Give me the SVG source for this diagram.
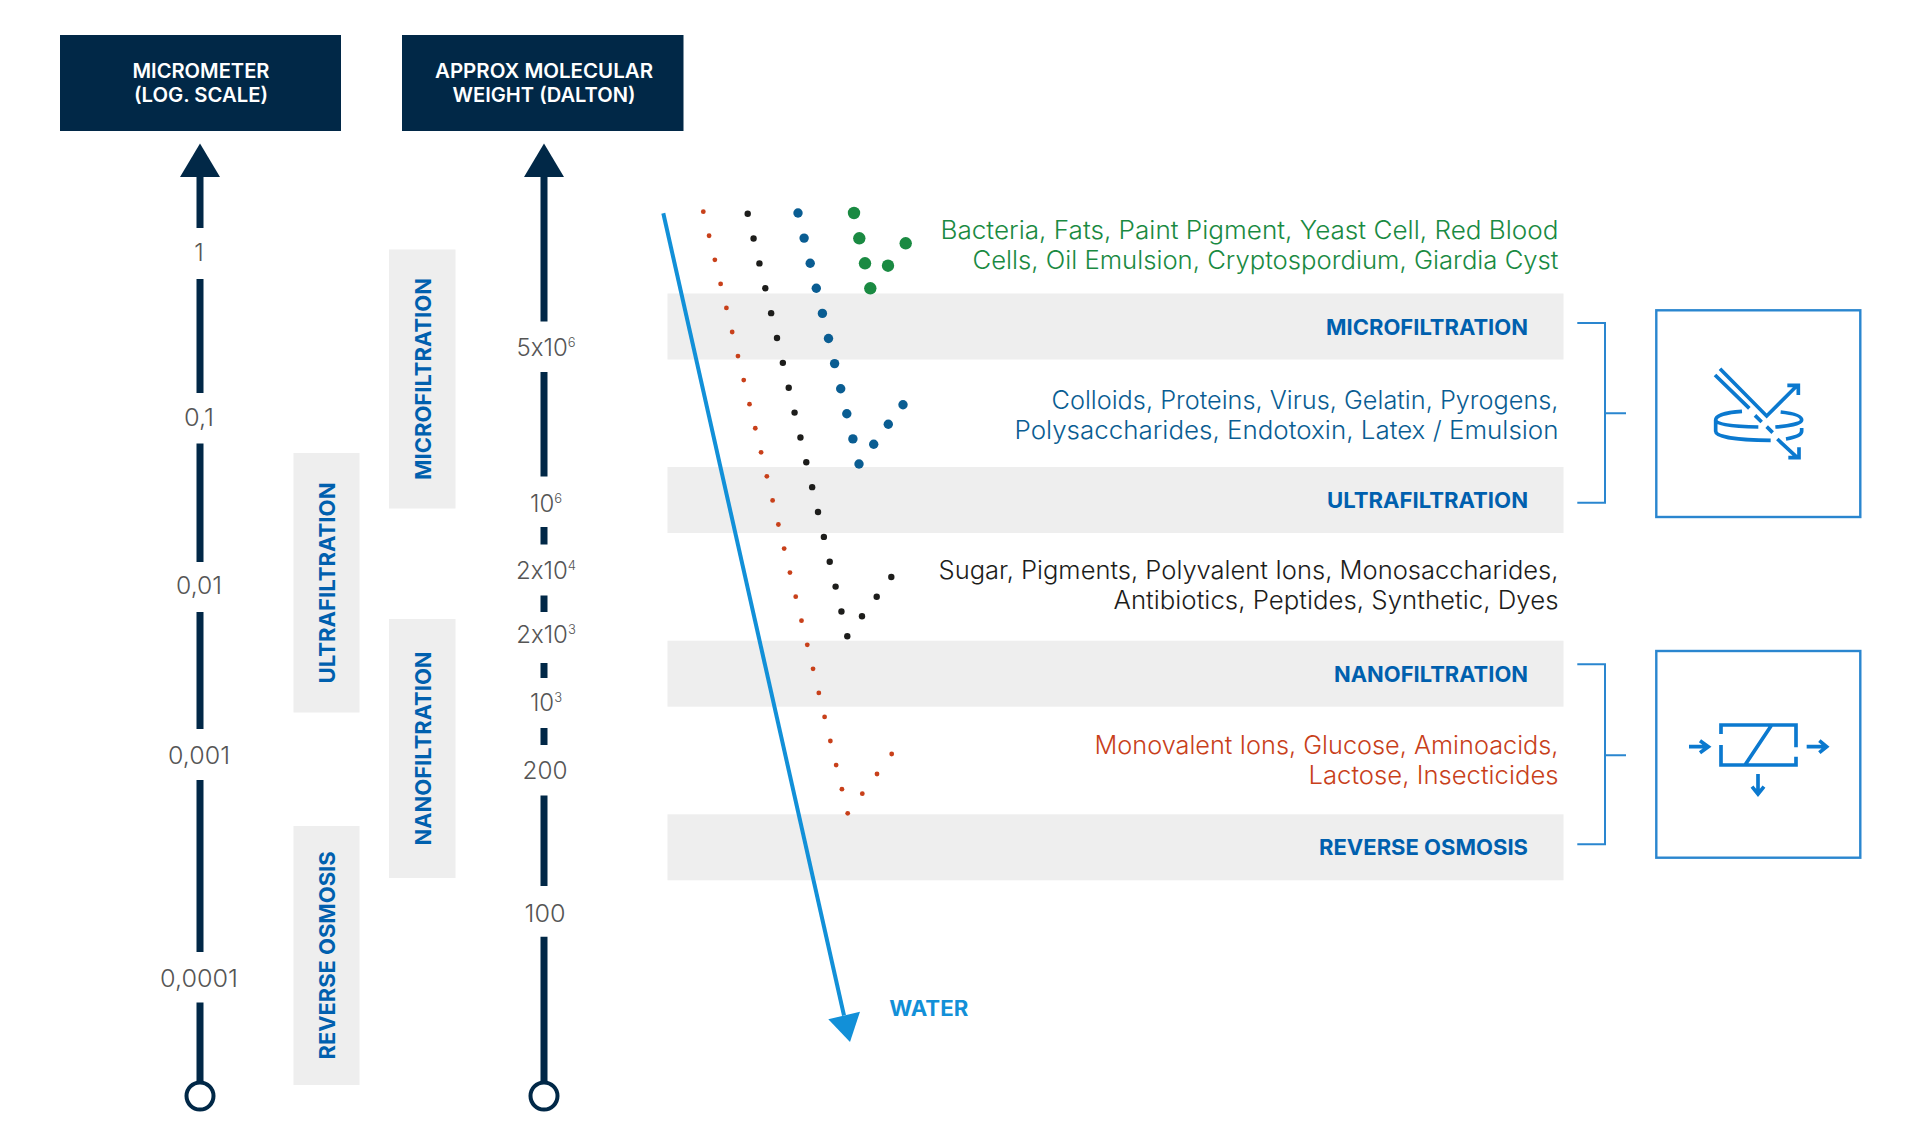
<svg xmlns="http://www.w3.org/2000/svg" width="1920" height="1146" viewBox="0 0 1920 1146">
<style>
text{font-family:"Inter","Liberation Sans",sans-serif}
.hd{fill:#012847}
.ht{fill:#fff;font-size:20px;font-weight:600;text-anchor:middle}
.ax{fill:none;stroke:#012847;stroke-width:7}
.ah{fill:#012847}
.end{fill:#fff;stroke:#012847;stroke-width:4}
.sc{fill:#555;font-size:24px;font-weight:300;text-anchor:middle;font-feature-settings:"calt" 0}
.sc tspan{font-size:13px}
.band{fill:#eee}
.fl{fill:#0060ae;font-size:21.500px;font-weight:700;text-anchor:middle}
.bl{fill:#0060ae;font-size:21.500px;font-weight:700;text-anchor:end}
.ls{font-size:25px;font-weight:300;text-anchor:end}
.g{fill:#1a8a42}.b{fill:#0a5d92}.k{fill:#1d1d1b}.o{fill:#c8401a}
.br{fill:none;stroke:#2a86cf;stroke-width:2}
.bx{fill:#fff;stroke:#2a86cf;stroke-width:2.4}
.ic{fill:none;stroke:#0b79cf;stroke-width:11}
</style>
<rect width="1920" height="1146" fill="#fff"/>

<g id="bands">
<rect class="band" x="667.5" y="293.5" width="896" height="66"/>
<rect class="band" x="667.5" y="467" width="896" height="66"/>
<rect class="band" x="667.5" y="640.7" width="896" height="66"/>
<rect class="band" x="667.5" y="814.3" width="896" height="66"/>
<rect class="band" x="389" y="249.5" width="66.5" height="259"/>
<rect class="band" x="293.5" y="453" width="66" height="259.5"/>
<rect class="band" x="389" y="619" width="66.5" height="259"/>
<rect class="band" x="293.5" y="826" width="66" height="259"/>
</g>

<g id="connectors">
<path class="ax" d="M200 177V228M200 279V393M200 443.500V562M200 612V729M200 780V952M200 1002.500V1082"/>
<path class="ax" d="M544 177V321.500M544 372V476.500M544 527V544.600M544 595.500V612M544 663V678M544 728V745M544 795.500V886M544 936.700V1082"/>
<path class="ah" d="M200 143.500L220 177H180Z"/>
<path class="ah" d="M544 143.500L564 177H524Z"/>
<circle class="end" cx="200" cy="1096" r="13.500"/>
<circle class="end" cx="544" cy="1096" r="13.500"/>
<path d="M663.300 213.300L844 1015.500" fill="none" stroke="#1290d8" stroke-width="4"/>
<path d="M850 1042L828.300 1019.300L860 1011.700Z" fill="#1290d8"/>
<path class="br" d="M1577.300 323H1605V502.700H1577.300M1605 413.300H1626"/>
<path class="br" d="M1577.300 664.300H1605V844.300H1577.300M1605 755.300H1626"/>
</g>

<g id="header-micrometer">
<rect class="hd" x="60" y="35" width="281" height="96"/>
<text class="ht" x="201" y="78" textLength="137" lengthAdjust="spacingAndGlyphs">MICROMETER</text>
<text class="ht" x="201" y="102" textLength="134" lengthAdjust="spacingAndGlyphs">(LOG. SCALE)</text>
</g>
<g id="header-dalton">
<rect class="hd" x="402" y="35" width="281.500" height="96"/>
<text class="ht" x="544" y="78" textLength="218" lengthAdjust="spacingAndGlyphs">APPROX MOLECULAR</text>
<text class="ht" x="544" y="102" textLength="183" lengthAdjust="spacingAndGlyphs">WEIGHT (DALTON)</text>
</g>

<g id="scale-micrometer">
<text class="sc" x="199" y="261">1</text>
<text class="sc" x="199" y="425.500" textLength="30" lengthAdjust="spacingAndGlyphs">0,1</text>
<text class="sc" x="199" y="594" textLength="46" lengthAdjust="spacingAndGlyphs">0,01</text>
<text class="sc" x="199" y="763.500" textLength="62" lengthAdjust="spacingAndGlyphs">0,001</text>
<text class="sc" x="199" y="986.500" textLength="78" lengthAdjust="spacingAndGlyphs">0,0001</text>
</g>
<g id="scale-dalton">
<text class="sc" x="546" y="356">5x10<tspan dy="-9">6</tspan></text>
<text class="sc" x="546" y="511.500">10<tspan dy="-9">6</tspan></text>
<text class="sc" x="546" y="578.500">2x10<tspan dy="-9">4</tspan></text>
<text class="sc" x="546" y="643">2x10<tspan dy="-9">3</tspan></text>
<text class="sc" x="546" y="710.500">10<tspan dy="-9">3</tspan></text>
<text class="sc" x="545" y="778.500" textLength="45" lengthAdjust="spacingAndGlyphs">200</text>
<text class="sc" x="545" y="921.500" textLength="41" lengthAdjust="spacingAndGlyphs">100</text>
</g>

<g id="vertical-microfiltration"><text class="fl" transform="translate(431 379) rotate(-90)" textLength="202" lengthAdjust="spacingAndGlyphs">MICROFILTRATION</text></g>
<g id="vertical-ultrafiltration"><text class="fl" transform="translate(335 583) rotate(-90)" textLength="201" lengthAdjust="spacingAndGlyphs">ULTRAFILTRATION</text></g>
<g id="vertical-nanofiltration"><text class="fl" transform="translate(431 748.500) rotate(-90)" textLength="194" lengthAdjust="spacingAndGlyphs">NANOFILTRATION</text></g>
<g id="vertical-reverse-osmosis"><text class="fl" transform="translate(335 955.500) rotate(-90)" textLength="208" lengthAdjust="spacingAndGlyphs">REVERSE OSMOSIS</text></g>

<g id="band-labels">
<text class="bl" x="1528" y="334.500" textLength="202" lengthAdjust="spacingAndGlyphs">MICROFILTRATION</text>
<text class="bl" x="1528" y="508" textLength="201" lengthAdjust="spacingAndGlyphs">ULTRAFILTRATION</text>
<text class="bl" x="1528" y="682" textLength="194" lengthAdjust="spacingAndGlyphs">NANOFILTRATION</text>
<text class="bl" x="1528" y="855" textLength="209" lengthAdjust="spacingAndGlyphs">REVERSE OSMOSIS</text>
</g>

<g id="text-green">
<text class="ls g" x="1558.500" y="238.500" textLength="618" lengthAdjust="spacingAndGlyphs">Bacteria, Fats, Paint Pigment, Yeast Cell, Red Blood</text>
<text class="ls g" x="1558.500" y="268.500" textLength="586" lengthAdjust="spacingAndGlyphs">Cells, Oil Emulsion, Cryptospordium, Giardia Cyst</text>
</g>
<g id="text-blue">
<text class="ls b" x="1558.500" y="408.500" textLength="507" lengthAdjust="spacingAndGlyphs">Colloids, Proteins, Virus, Gelatin, Pyrogens,</text>
<text class="ls b" x="1558.500" y="438.500" textLength="544" lengthAdjust="spacingAndGlyphs">Polysaccharides, Endotoxin, Latex / Emulsion</text>
</g>
<g id="text-black">
<text class="ls k" x="1558.500" y="578.500" textLength="620" lengthAdjust="spacingAndGlyphs">Sugar, Pigments, Polyvalent Ions, Monosaccharides,</text>
<text class="ls k" x="1558.500" y="608.500" textLength="445" lengthAdjust="spacingAndGlyphs">Antibiotics, Peptides, Synthetic, Dyes</text>
</g>
<g id="text-orange">
<text class="ls o" x="1558.500" y="753.500" textLength="464" lengthAdjust="spacingAndGlyphs">Monovalent Ions, Glucose, Aminoacids,</text>
<text class="ls o" x="1558.500" y="783.500" textLength="250" lengthAdjust="spacingAndGlyphs">Lactose, Insecticides</text>
</g>

<g id="water-label"><text x="889.300" y="1016" fill="#1290d8" font-size="21" font-weight="700" textLength="79" lengthAdjust="spacingAndGlyphs">WATER</text></g>

<g id="dots-green" class="g">
<circle cx="854" cy="213" r="6.200"/><circle cx="859.300" cy="238.300" r="6.200"/><circle cx="865" cy="263.300" r="6.200"/><circle cx="870.300" cy="288.300" r="6.200"/><circle cx="888" cy="265.700" r="6.200"/><circle cx="905.700" cy="243.300" r="6.200"/>
</g>
<g id="dots-blue" class="b">
<circle cx="798" cy="213" r="4.700"/><circle cx="804.100" cy="238.100" r="4.700"/><circle cx="810.200" cy="263.200" r="4.700"/><circle cx="816.300" cy="288.300" r="4.700"/><circle cx="822.400" cy="313.400" r="4.700"/><circle cx="828.500" cy="338.500" r="4.700"/><circle cx="834.600" cy="363.600" r="4.700"/><circle cx="840.700" cy="388.700" r="4.700"/><circle cx="846.800" cy="413.800" r="4.700"/><circle cx="852.900" cy="438.900" r="4.700"/><circle cx="859" cy="464" r="4.700"/><circle cx="873.700" cy="444.300" r="4.700"/><circle cx="888.300" cy="424.300" r="4.700"/><circle cx="903" cy="404.700" r="4.700"/>
</g>
<g id="dots-black" class="k">
<circle cx="747.700" cy="213.700" r="3.200"/><circle cx="753.560" cy="238.560" r="3.200"/><circle cx="759.420" cy="263.420" r="3.200"/><circle cx="765.280" cy="288.280" r="3.200"/><circle cx="771.140" cy="313.140" r="3.200"/><circle cx="777" cy="338" r="3.200"/><circle cx="782.860" cy="362.860" r="3.200"/><circle cx="788.720" cy="387.720" r="3.200"/><circle cx="794.580" cy="412.580" r="3.200"/><circle cx="800.440" cy="437.440" r="3.200"/><circle cx="806.300" cy="462.300" r="3.200"/><circle cx="812.160" cy="487.160" r="3.200"/><circle cx="818.020" cy="512.020" r="3.200"/><circle cx="823.880" cy="536.880" r="3.200"/><circle cx="829.740" cy="561.740" r="3.200"/><circle cx="835.600" cy="586.600" r="3.200"/><circle cx="841.460" cy="611.460" r="3.200"/><circle cx="847.300" cy="636.300" r="3.200"/><circle cx="862" cy="616.300" r="3.200"/><circle cx="876.700" cy="596.700" r="3.200"/><circle cx="891.300" cy="577" r="3.200"/>
</g>
<g id="dots-orange" class="o">
<circle cx="703.300" cy="211.700" r="2.400"/><circle cx="709.080" cy="235.760" r="2.400"/><circle cx="714.850" cy="259.820" r="2.400"/><circle cx="720.630" cy="283.880" r="2.400"/><circle cx="726.400" cy="307.940" r="2.400"/><circle cx="732.180" cy="332" r="2.400"/><circle cx="737.960" cy="356.060" r="2.400"/><circle cx="743.730" cy="380.120" r="2.400"/><circle cx="749.510" cy="404.180" r="2.400"/><circle cx="755.280" cy="428.240" r="2.400"/><circle cx="761.060" cy="452.300" r="2.400"/><circle cx="766.840" cy="476.360" r="2.400"/><circle cx="772.610" cy="500.420" r="2.400"/><circle cx="778.390" cy="524.480" r="2.400"/><circle cx="784.160" cy="548.540" r="2.400"/><circle cx="789.940" cy="572.600" r="2.400"/><circle cx="795.720" cy="596.660" r="2.400"/><circle cx="801.490" cy="620.720" r="2.400"/><circle cx="807.270" cy="644.780" r="2.400"/><circle cx="813.040" cy="668.840" r="2.400"/><circle cx="818.820" cy="692.900" r="2.400"/><circle cx="824.600" cy="716.960" r="2.400"/><circle cx="830.370" cy="741.020" r="2.400"/><circle cx="836.150" cy="765.080" r="2.400"/><circle cx="841.920" cy="789.140" r="2.400"/><circle cx="847.700" cy="813.300" r="2.400"/><circle cx="862.300" cy="793.700" r="2.400"/><circle cx="877" cy="774" r="2.400"/><circle cx="891.700" cy="754" r="2.400"/>
</g>

<g id="icon-crossflow">
<rect class="bx" x="1656.300" y="310.300" width="204" height="206.700"/>
<g transform="translate(1540 290) scale(0.33333)">
<path class="ic" d="M525 255L628 355M540 236L680 378L770 288M742 286H775V315M645 376L665 396M680 410L698 428M712 447L772 503M745 503H777V472"/>
<path class="ic" d="M606 364C560 367 527 376 527 390C527 403 575 410 655 411M722 366C760 370 785 378 785 390C785 400 750 408 706 411M527 390V424C527 440 590 451 692 451M785 414V424C785 435 768 442 738 447"/>
</g>
</g>
<g id="icon-deadend">
<rect class="bx" x="1656.300" y="651" width="204" height="206.700"/>
<g transform="translate(1540 630) scale(0.33333)">
<path class="ic" d="M543 312V285H768V352M543 345V405H768V380M695 285L615 405"/>
<path class="ic" d="M447 350H505M480 332L505 350L480 368M800 350H860M838 332L860 350L838 368M654 432V490M636 470L654 492L672 470"/>
</g>
</g>
</svg>
